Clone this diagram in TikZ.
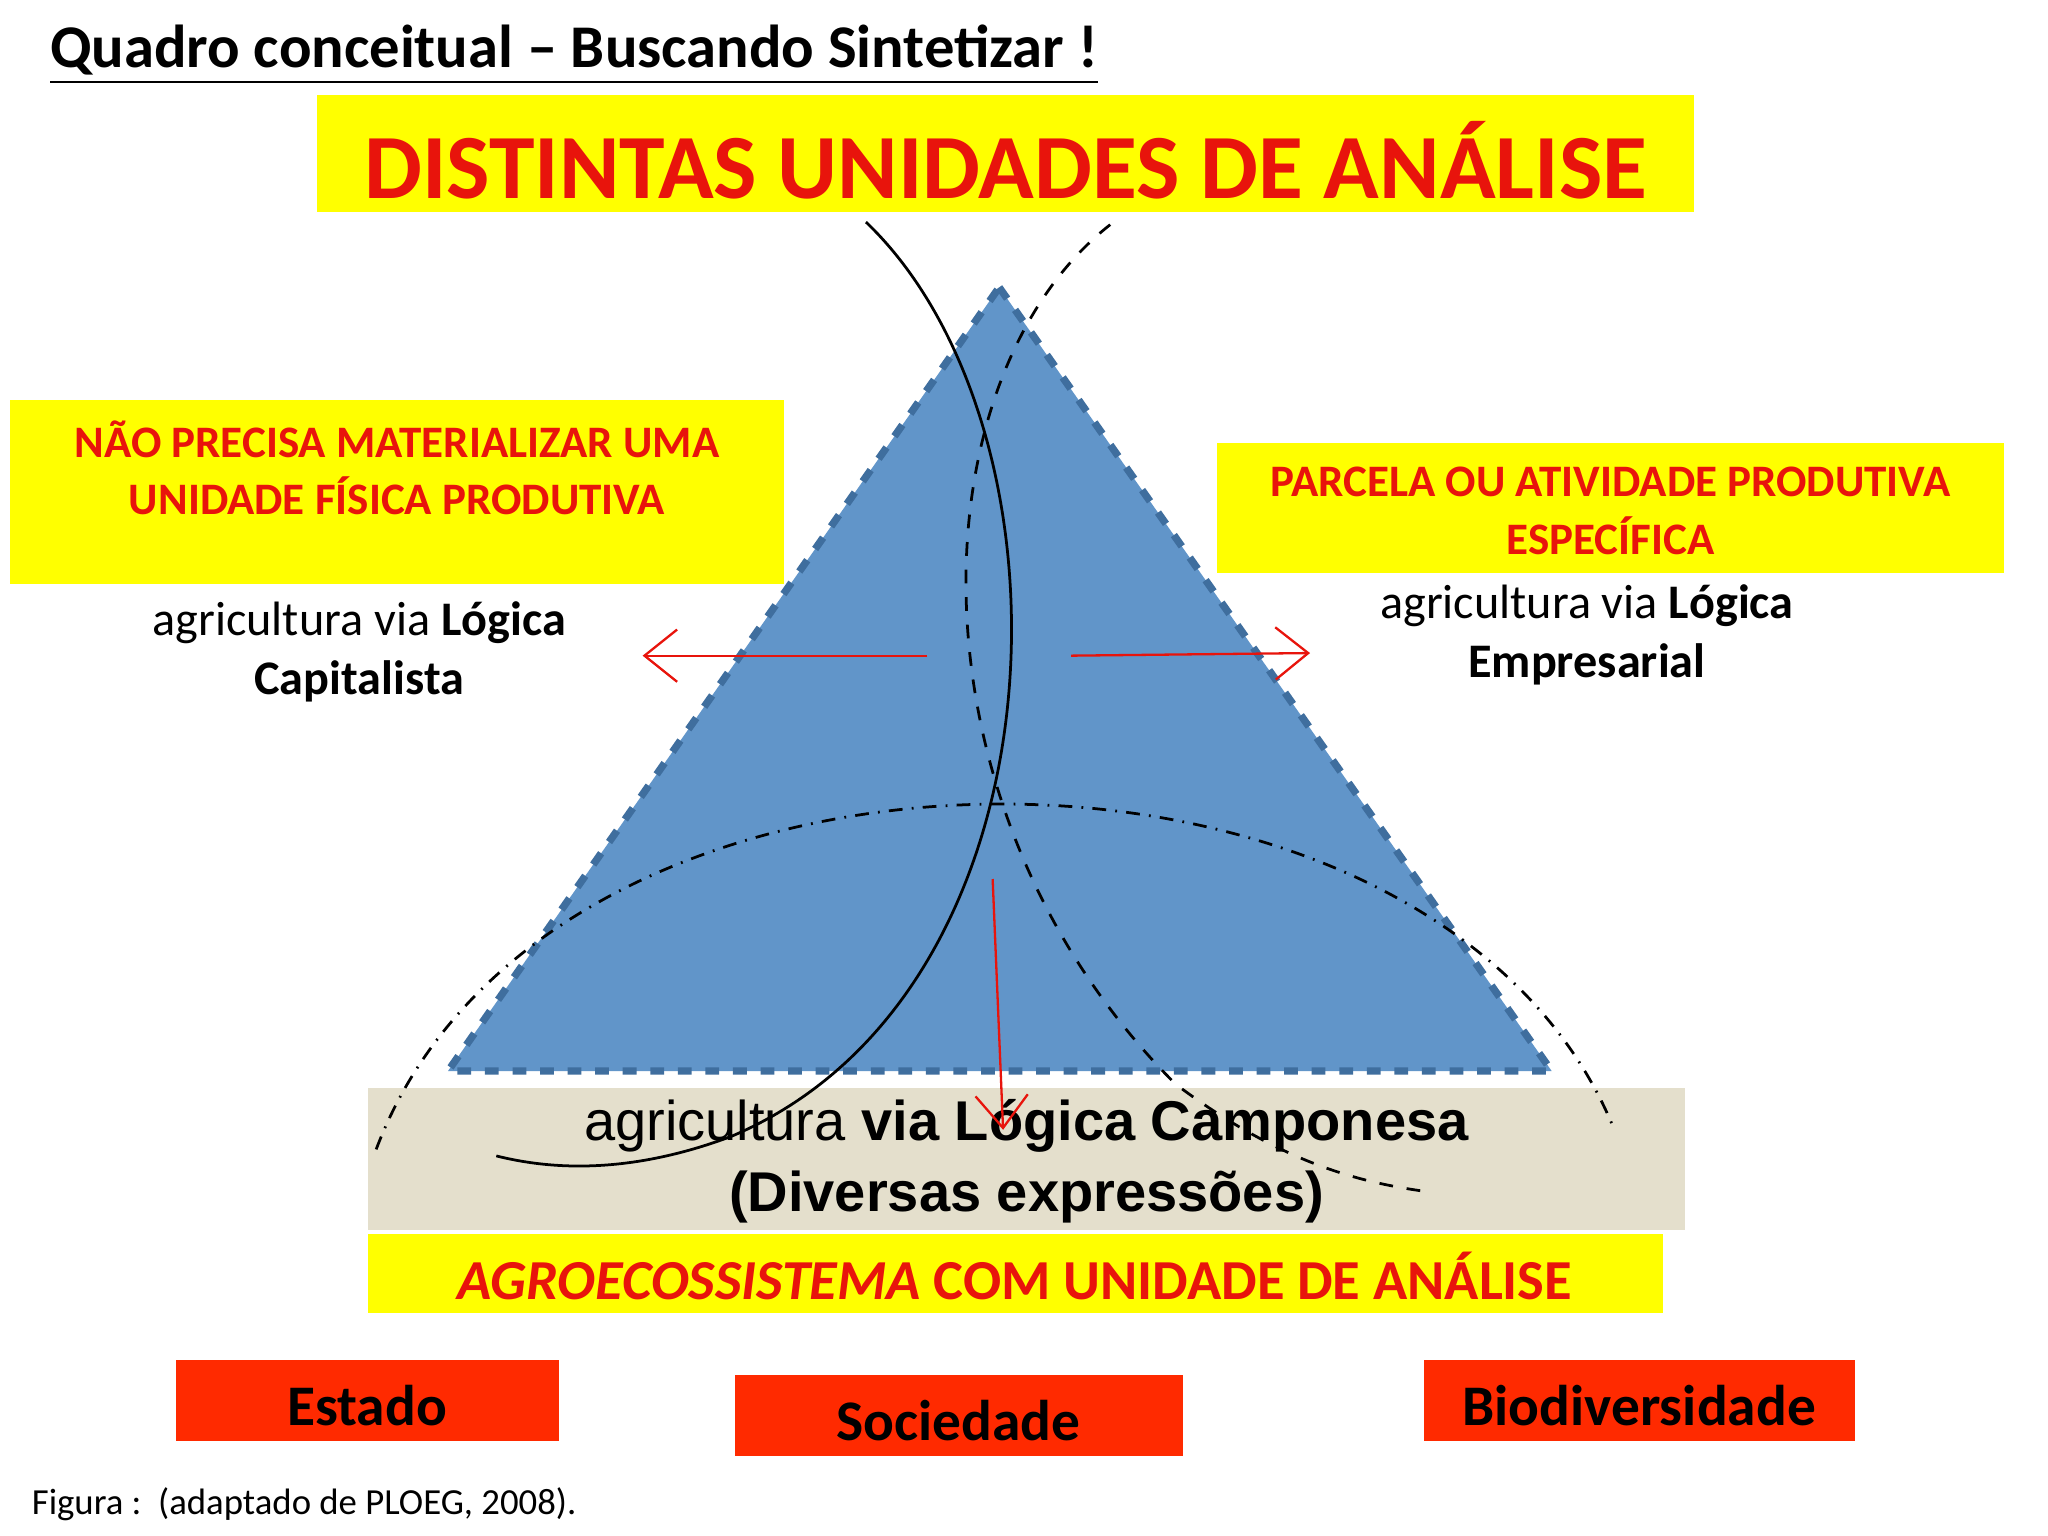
\documentclass[tikz,border=0pt]{standalone}
\usepackage{fontspec}
\setmainfont{Carlito}
\newfontfamily\arialf{Liberation Sans}
\usetikzlibrary{arrows.meta}
\definecolor{yel}{HTML}{FFFF00}
\definecolor{tred}{HTML}{E8140C}
\definecolor{tri}{HTML}{6195C9}
\definecolor{triedge}{HTML}{3F6E9E}
\definecolor{beige}{HTML}{E4DFCC}
\definecolor{boxred}{HTML}{FF2A00}
\tikzset{
 ybox/.style={fill=yel,draw=none},
 rbox/.style={fill=boxred,draw=none},
 rtext/.style={text=tred,font=\bfseries\fontsize{9.8}{12.5}\selectfont,align=center},
 btext/.style={font=\fontsize{10.5}{13}\selectfont,align=center},
 lab/.style={font=\bfseries\fontsize{12.5}{15}\selectfont},
 rarrow/.style={draw=tred,line width=0.5pt,-{Straight Barb[length=2.5mm,width=4mm]}}
}
\begin{document}
\begin{tikzpicture}[x=0.01cm,y=-0.01cm]
\useasboundingbox[fill=white] (0,0) rectangle (1568,1176);
% title
\node[anchor=west,font=\bfseries\fontsize{13.2}{15}\selectfont] (title) at (26,42) {\underline{Quadro conceitual – Buscando Sintetizar !}};
% top box
\fill[ybox] (243,73) rectangle (1297,162);
\node[text=tred,font=\bfseries\fontsize{20}{24}\selectfont] (top) at (770,123) {DISTINTAS UNIDADES DE ANÁLISE};
% triangle
\draw[fill=tri,draw=triedge,dashed,line width=1.6pt] (765,220) -- (1188,820) -- (343,820) -- cycle;
% side boxes
\fill[ybox] (8,306) rectangle (600,447);
\node[rtext] (lbox) at (304,358) {NÃO PRECISA MATERIALIZAR UMA\\UNIDADE FÍSICA PRODUTIVA};
\fill[ybox] (932,339) rectangle (1534,439);
\node[rtext] (rbox) at (1233,391) {PARCELA OU ATIVIDADE PRODUTIVA\\ESPECÍFICA};
\node[btext] (ltxt) at (275,499) {agricultura via \textbf{Lógica}\\\textbf{Capitalista}};
\node[btext] (rtxt) at (1215,486) {agricultura via \textbf{Lógica}\\\textbf{Empresarial}};
% bottom beige
\fill[beige] (282,833) rectangle (1290,942);
\node[font=\arialf\fontsize{12.2}{15.5}\selectfont,align=center] (camp) at (786,889) {agricultura \textbf{via Lógica Camponesa}\\\textbf{(Diversas expressões)}};
\fill[ybox] (282,945) rectangle (1273,1005);
\node[text=tred,font=\bfseries\fontsize{12.3}{15}\selectfont] (agro) at (777,977) {\textit{AGROECOSSISTEMA} COM UNIDADE DE ANÁLISE};
% curves
\draw[line width=0.6pt] (663,170) .. controls (830,330) and (820,760) .. (560,870) .. controls (480,900) and (420,895) .. (380,885);
\draw[dashed,line width=0.6pt] (850,172) .. controls (700,290) and (690,620) .. (900,830) .. controls (980,890) and (1040,905) .. (1090,912);
\draw[dash dot,line width=0.6pt] (288,880) .. controls (420,530) and (1100,530) .. (1236,865);
% arrows
\coordinate (a1) at (710,502); \coordinate (a1e) at (492,502);
\coordinate (a2) at (820,502); \coordinate (a2e) at (1003,500);
\coordinate (a3) at (760,673); \coordinate (a3e) at (768,865);
\draw[rarrow] (a1) -- (a1e);
\draw[rarrow] (a2) -- (a2e);
\draw[rarrow] (a3) -- (a3e);
% red boxes
\fill[rbox] (135,1041) rectangle (428,1103);
\node[lab] (estado) at (281,1076) {Estado};
\fill[rbox] (563,1053) rectangle (906,1115);
\node[lab] (soc) at (734,1088) {Sociedade};
\fill[rbox] (1090,1041) rectangle (1420,1103);
\node[lab] (bio) at (1255,1076) {Biodiversidade};
\node[anchor=west,font=\fontsize{8}{10}\selectfont] (cap) at (12,1152) {Figura :\ \ (adaptado de PLOEG, 2008).};
\end{tikzpicture}
\end{document}
